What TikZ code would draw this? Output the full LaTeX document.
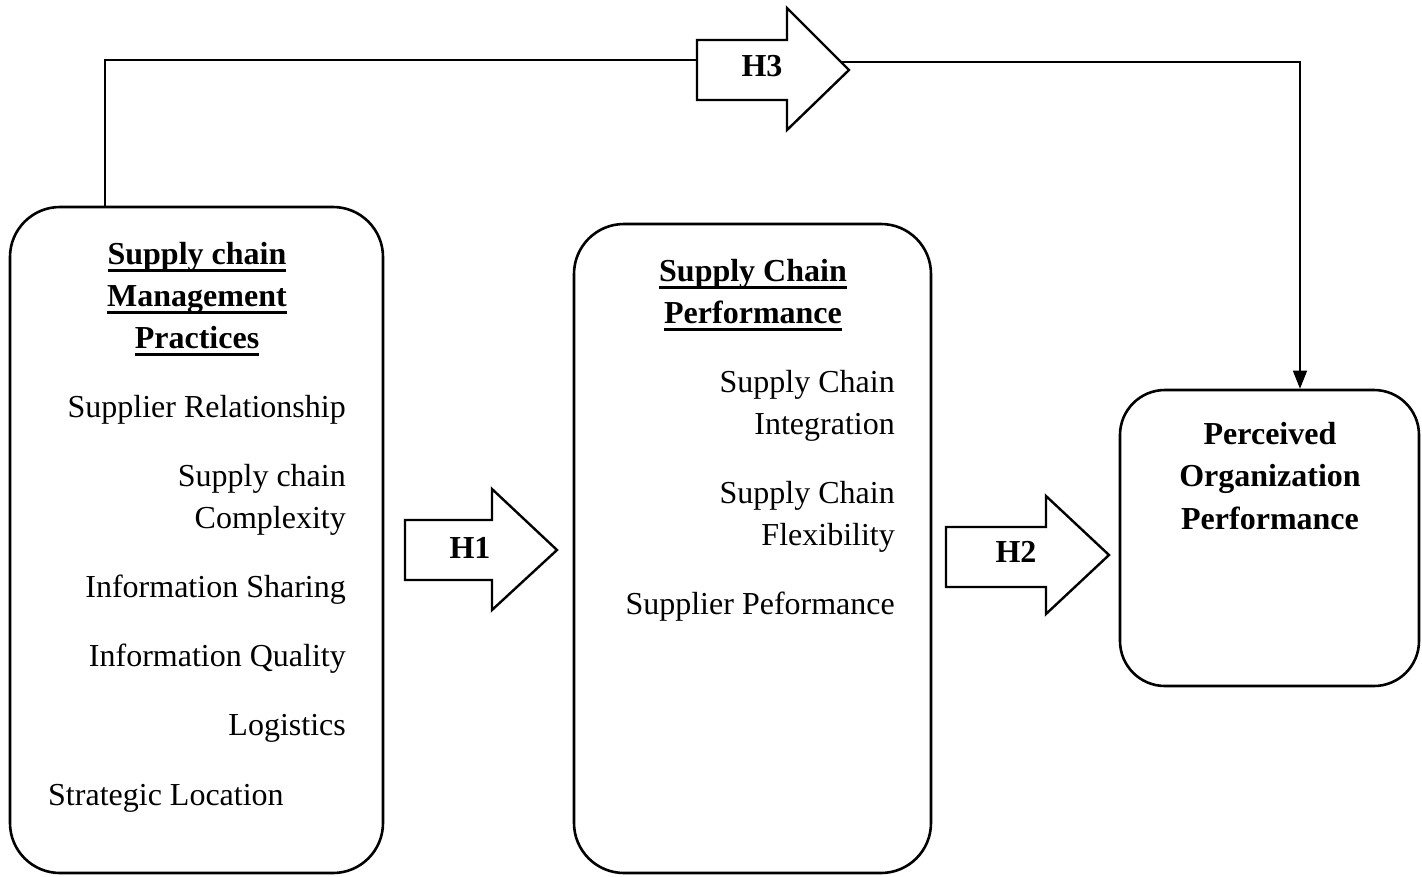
\documentclass[tikz,border=0pt]{standalone}
\usepackage{fontspec}
\setmainfont{Liberation Serif}
\usetikzlibrary{arrows.meta}

% heavy underline for the box headings
\newcommand{\headul}[1]{\setbox0\hbox{#1}\rlap{\rule[-8pt]{\wd0}{3pt}}\box0}

\tikzset{
  box/.style={draw, line width=2.6pt, rounded corners=50pt, inner sep=0pt},
  blockarrow/.style={draw, line width=2.4pt, line join=miter, fill=white},
  link/.style={draw, line width=1.5pt},
  item/.style={inner sep=0pt, align=right, font=\fontsize{32}{42}\selectfont},
  title/.style={inner sep=0pt, align=center, font=\fontsize{32}{42}\selectfont\bfseries},
  hlabel/.style={inner sep=0pt, font=\fontsize{32}{42}\selectfont\bfseries}
}

\begin{document}
\begin{tikzpicture}[x=1pt, y=-1pt]
\useasboundingbox (0,0) rectangle (1422,876);

% the three construct boxes
\node[box, minimum width=373pt, minimum height=666pt] (smp) at (196.5,540) {};
\node[box, minimum width=357pt, minimum height=649pt] (scp) at (752.5,548.5) {};
\node[box, rounded corners=45pt, minimum width=299pt, minimum height=296pt] (pop) at (1269.5,538) {};

% Supply chain management practices
\node[title, anchor=base] (t1a) at (197,264) {\headul{Supply chain}};
\node[title, anchor=base] (t1b) at (197,306) {\headul{Management}};
\node[title, anchor=base] (t1c) at (197,348) {\headul{Practices}};
\node[item, anchor=base east] (i1) at (346,417) {Supplier Relationship};
\node[item, anchor=base east] (i2) at (346,486) {Supply chain};
\node[item, anchor=base east] (i2b) at (346,528) {Complexity};
\node[item, anchor=base east] (i3) at (346,597) {Information Sharing};
\node[item, anchor=base east] (i4) at (346,666) {Information Quality};
\node[item, anchor=base east] (i5) at (346,735) {Logistics};
\node[item, anchor=base west] (i6) at (48,805) {Strategic Location};

% Supply chain performance
\node[title, anchor=base] (t2a) at (753,281) {\headul{Supply Chain}};
\node[title, anchor=base] (t2b) at (753,323) {\headul{Performance}};
\node[item, anchor=base east] (j1) at (895,392) {Supply Chain};
\node[item, anchor=base east] (j1b) at (895,434) {Integration};
\node[item, anchor=base east] (j2) at (895,503) {Supply Chain};
\node[item, anchor=base east] (j2b) at (895,545) {Flexibility};
\node[item, anchor=base east] (j3) at (895,614) {Supplier Peformance};

% Perceived organization performance
\node[title, anchor=base] (t3a) at (1270,444) {Perceived};
\node[title, anchor=base] (t3b) at (1270,486) {Organization};
\node[title, anchor=base] (t3c) at (1270,529) {Performance};

% block arrows for the hypotheses
\draw[blockarrow] (405,520) -- (492,520) -- (492,489) -- (557,550) -- (492,610) -- (492,580) -- (405,580) -- cycle;
\node[hlabel] (h1) at (470,548) {H1};

\draw[blockarrow] (946,527) -- (1046,527) -- (1046,496) -- (1109,555) -- (1046,614) -- (1046,587) -- (946,587) -- cycle;
\node[hlabel] (h2) at (1016,552) {H2};

\draw[blockarrow] (697,40) -- (787,40) -- (787,8) -- (849,70) -- (787,130) -- (787,100) -- (697,100) -- cycle;
\node[hlabel] (h3) at (762,66) {H3};

% H3 connector from practices to organization performance
\coordinate (h3in) at (697,60);
\coordinate (h3out) at (841,62);
\coordinate (cl) at (105,60);
\coordinate (cr) at (1300,62);
\draw[link] (smp.north -| cl) -- (cl) -- (h3in);
\draw[link, -{Triangle[width=14pt, length=18pt]}] (h3out) -- (cr) -- (cr |- pop.north);
\end{tikzpicture}
\end{document}
